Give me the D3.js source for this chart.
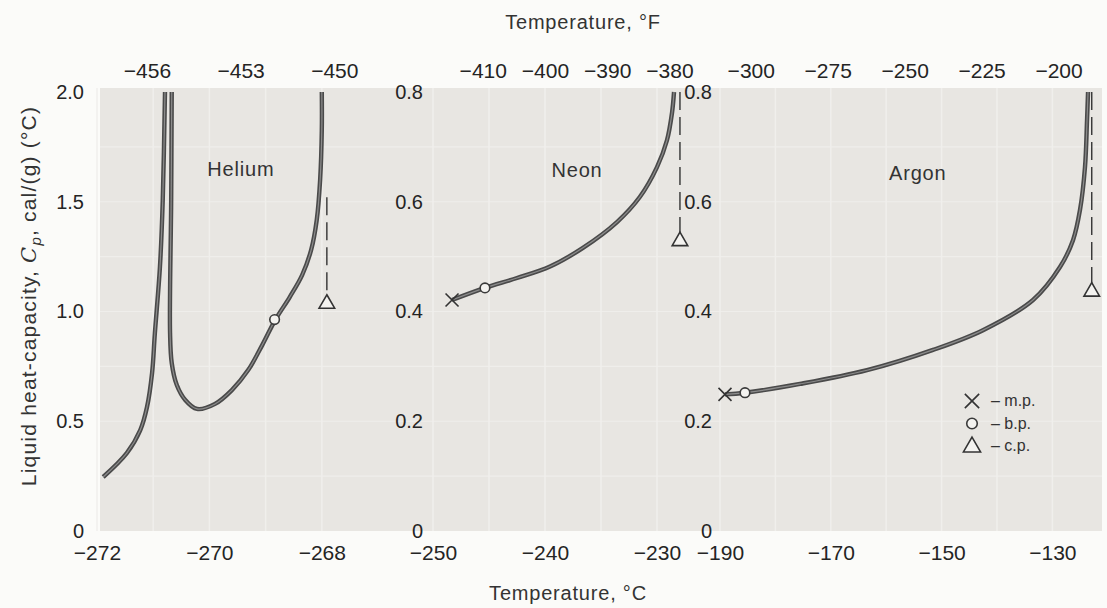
<!DOCTYPE html>
<html>
<head>
<meta charset="utf-8">
<script src="https://cdn.jsdelivr.net/npm/d3@7"></script>
<style>
  body { margin: 0; background: #fbfbf9; }
  .tick text { fill: #242424; }
</style>
</head>
<body>
<div id="chart"></div>
<script>
// temperatures in degC, heat capacity in cal/(g)(degC)
var heLeftT  = [-271.89, -271.47, -271.23, -271.11, -271.02, -270.97, -270.88, -270.83, -270.79];
var heLeftCp = [0.246, 0.355, 0.460, 0.565, 0.720, 0.902, 1.203, 1.508, 2.0];
var heRightT  = [-270.67, -270.68, -270.70, -270.67, -270.58, -270.43, -270.22, -269.90, -269.60, -269.31, -269.06, -268.83, -268.57, -268.35, -268.19, -268.09, -268.03, -268.0, -268.0];
var heRightCp = [2.0, 1.508, 0.902, 0.765, 0.665, 0.597, 0.556, 0.579, 0.642, 0.733, 0.847, 0.961, 1.066, 1.166, 1.280, 1.417, 1.599, 1.827, 2.0];

var neT  = [-248.30, -245.36, -242.50, -239.55, -236.61, -233.57, -231.52, -230.0, -229.11, -228.66, -228.48];
var neCp = [0.421, 0.443, 0.461, 0.482, 0.516, 0.563, 0.609, 0.663, 0.712, 0.762, 0.80];

var arT  = [-189.10, -185.49, -175.56, -163.47, -151.55, -142.53, -133.50, -128.63, -126.28, -125.02, -124.12, -123.75, -123.57];
var arCp = [0.249, 0.252, 0.268, 0.293, 0.330, 0.366, 0.421, 0.481, 0.530, 0.585, 0.663, 0.749, 0.80];

// melting / boiling / critical points [T, Cp]
var heBp = [-268.84, 0.963], heCp = [-267.91, 1.04], heDashTop = 1.52;
var neMp = [-248.30, 0.421], neBp = [-245.36, 0.443], neCpPt = [-227.95, 0.530], neDashTop = 0.8;
var arMp = [-189.10, 0.249], arBp = [-185.49, 0.252], arCpPt = [-122.9, 0.438], arDashTop = 0.8;

// tick labels
var heTicksC = [-272, -270, -268], heTicksF = [-456, -453, -450], heTicksY = [0, 0.5, 1.0, 1.5, 2.0];
var neTicksC = [-250, -240, -230], neTicksF = [-410, -400, -390, -380], neTicksY = [0, 0.2, 0.4, 0.6, 0.8];
var arTicksC = [-190, -170, -150, -130], arTicksF = [-300, -275, -250, -225, -200], arTicksY = [0, 0.2, 0.4, 0.6, 0.8];

var legendItems = ["mp", "bp", "cp"];
var legendText = ["\u2013 m.p.", "\u2013 b.p.", "\u2013 c.p."];

var w = 1107, h = 608;
var plotTop = 92, plotBottom = 531, bgTop = 88;

var svg = d3.select("#chart").append("svg")
    .attr("width", w).attr("height", h)
    .style("font-family", "'Liberation Sans', Arial, sans-serif");

var cToF = c => c * 1.8 + 32;

var panels = [
  {name: "Helium", dom: [-272, -267], rng: [97, 378], ymax: 2, tc: heTicksC, tf: heTicksF, ty: heTicksY,
   yAxisX: 100, pad: 16, gridX: 1, label: [-269.44, 1.617],
   lines: [[heLeftT, heLeftCp], [heRightT, heRightCp]], mp: null, bp: heBp, cp: heCp, dashTop: heDashTop},
  {name: "Neon", dom: [-250, -227.5], rng: [433, 685], ymax: 0.8, tc: neTicksC, tf: neTicksF, ty: neTicksY,
   yAxisX: 437, pad: 14, gridX: 5, label: [-237.14, 0.645],
   lines: [[neT, neCp]], mp: neMp, bp: neBp, cp: neCpPt, dashTop: neDashTop},
  {name: "Argon", dom: [-190, -121.5], rng: [720, 1099.5], ymax: 0.8, tc: arTicksC, tf: arTicksF, ty: arTicksY,
   yAxisX: 720, pad: 8, gridX: 10, label: [-154.3, 0.64],
   lines: [[arT, arCp]], mp: arMp, bp: arBp, cp: arCpPt, dashTop: arDashTop}
];

// paper background
svg.append("rect")
    .attr("x", 100).attr("y", bgTop)
    .attr("width", 1002).attr("height", plotBottom - bgTop)
    .attr("fill", "#e8e6e2");

// faint horizontal paper grid
var yGrid = d3.scaleLinear().domain([0, 2]).range([plotBottom, plotTop]);
svg.selectAll(".gy").data(d3.range(0.25, 2, 0.25)).enter().append("line")
    .attr("x1", 100).attr("x2", 1102)
    .attr("y1", d => yGrid(d)).attr("y2", d => yGrid(d))
    .attr("stroke", "#efeeeb").attr("stroke-width", 1.2);

var line = d3.line().curve(d3.curveCatmullRom.alpha(0.5));
var fmtY = d => d === 0 ? "0" : d3.format(".1f")(d);

function drawMarker(g, type, x, y, big) {
  var k = big ? 1.1 : 1;
  if (type == "mp") {
    var s = 6.5 * k;
    g.append("path")
      .attr("d", "M" + (x - s) + "," + (y - s) + "L" + (x + s) + "," + (y + s) + "M" + (x - s) + "," + (y + s) + "L" + (x + s) + "," + (y - s))
      .attr("stroke", "#333").attr("stroke-width", 1.6).attr("fill", "none");
  } else if (type == "bp") {
    g.append("circle").attr("cx", x).attr("cy", y).attr("r", 4.8 * k)
      .attr("fill", "#f4f3f0").attr("stroke", "#3a3a3a").attr("stroke-width", 1.6);
  } else {
    g.append("path")
      .attr("d", d3.symbol().type(d3.symbolTriangle).size(105 * k * k)())
      .attr("transform", "translate(" + x + "," + (y + 1) + ")")
      .attr("fill", "#f4f3f0").attr("stroke", "#333").attr("stroke-width", 1.6);
  }
}

panels.forEach(function(p) {
  var x = d3.scaleLinear().domain(p.dom).range(p.rng);
  var xf = d3.scaleLinear().domain(p.dom.map(cToF)).range(p.rng);
  var y = d3.scaleLinear().domain([0, p.ymax]).range([plotBottom, plotTop]);
  var g = svg.append("g");

  // faint vertical paper grid
  var gx = d3.range(Math.ceil(p.dom[0] / p.gridX) * p.gridX, p.dom[1], p.gridX);
  g.selectAll(".gx").data(gx).enter().append("line")
    .attr("x1", d => x(d)).attr("x2", d => x(d))
    .attr("y1", bgTop).attr("y2", plotBottom)
    .attr("stroke", "#f0efec").attr("stroke-width", 1.5);

  // axes
  g.append("g").attr("transform", "translate(0," + plotBottom + ")")
    .call(d3.axisBottom(x).tickValues(p.tc).tickSize(0).tickPadding(14).tickFormat(d3.format("d")))
    .call(a => a.select(".domain").remove())
    .selectAll("text").attr("font-size", 21).attr("font-family", "'Liberation Sans Narrow', 'Liberation Sans', sans-serif");

  g.append("g").attr("transform", "translate(0," + bgTop + ")")
    .call(d3.axisTop(xf).tickValues(p.tf).tickSize(0).tickPadding(10).tickFormat(d3.format("d")))
    .call(a => a.select(".domain").remove())
    .selectAll("text").attr("font-size", 21).attr("font-family", "'Liberation Sans Narrow', 'Liberation Sans', sans-serif");

  g.append("g").attr("transform", "translate(" + p.yAxisX + ",0)")
    .call(d3.axisLeft(y).tickValues(p.ty).tickSize(0).tickPadding(p.pad).tickFormat(fmtY))
    .call(a => a.select(".domain").remove())
    .selectAll("text").attr("font-size", 20).attr("font-family", "'Liberation Sans Narrow', 'Liberation Sans', sans-serif");

  // dashed critical line
  g.append("line")
    .attr("x1", x(p.cp[0])).attr("x2", x(p.cp[0]))
    .attr("y1", y(p.dashTop)).attr("y2", y(p.cp[1]) - 6)
    .attr("stroke", "#333").attr("stroke-width", 1.4)
    .attr("stroke-dasharray", "18,7");

  // curves
  p.lines.forEach(function(l) {
    var pts = l[0].map((t, i) => [x(t), y(l[1][i])]);
    g.append("path").attr("d", line(pts))
      .attr("fill", "none").attr("stroke", "#4a4a4a").attr("stroke-width", 4.4);
    g.append("path").attr("d", line(pts))
      .attr("fill", "none").attr("stroke", "#8c8c8c").attr("stroke-width", 1.2);
  });

  if (p.mp) drawMarker(g, "mp", x(p.mp[0]), y(p.mp[1]));
  drawMarker(g, "bp", x(p.bp[0]), y(p.bp[1]));
  drawMarker(g, "cp", x(p.cp[0]), y(p.cp[1]));

  g.append("text")
    .attr("x", x(p.label[0])).attr("y", y(p.label[1]))
    .attr("text-anchor", "middle")
    .attr("font-size", 20).attr("letter-spacing", 0.8)
    .attr("fill", "#333")
    .text(p.name);
});

// legend
var leg = svg.append("g").attr("transform", "translate(972,401)");
legendItems.forEach(function(k, i) {
  drawMarker(leg, k, 0, i * 22.5, true);
  leg.append("text")
    .attr("x", 19).attr("y", i * 22.5 + 5)
    .attr("font-size", 16).attr("fill", "#333")
    .text(legendText[i]);
});

// titles
svg.append("text")
  .attr("x", 583).attr("y", 29)
  .attr("text-anchor", "middle").attr("font-size", 20).attr("letter-spacing", 0.8)
  .attr("fill", "#333")
  .text("Temperature, \u00b0F");

svg.append("text")
  .attr("x", 568).attr("y", 600)
  .attr("text-anchor", "middle").attr("font-size", 20).attr("letter-spacing", 0.8)
  .attr("fill", "#333")
  .text("Temperature, \u00b0C");

var yt = svg.append("text")
  .attr("transform", "translate(36,296) rotate(-90)")
  .attr("text-anchor", "middle").attr("font-size", 21).attr("letter-spacing", 1.2)
  .attr("fill", "#333");
yt.append("tspan").text("Liquid heat-capacity, ");
yt.append("tspan").attr("font-style", "italic").attr("font-family", "'DejaVu Serif', serif").text("C");
yt.append("tspan").attr("font-style", "italic").attr("font-size", 15).attr("dy", 5).text("p");
yt.append("tspan").attr("dy", -5).text(", cal/(g) (\u00b0C)");
</script>
</body>
</html>
